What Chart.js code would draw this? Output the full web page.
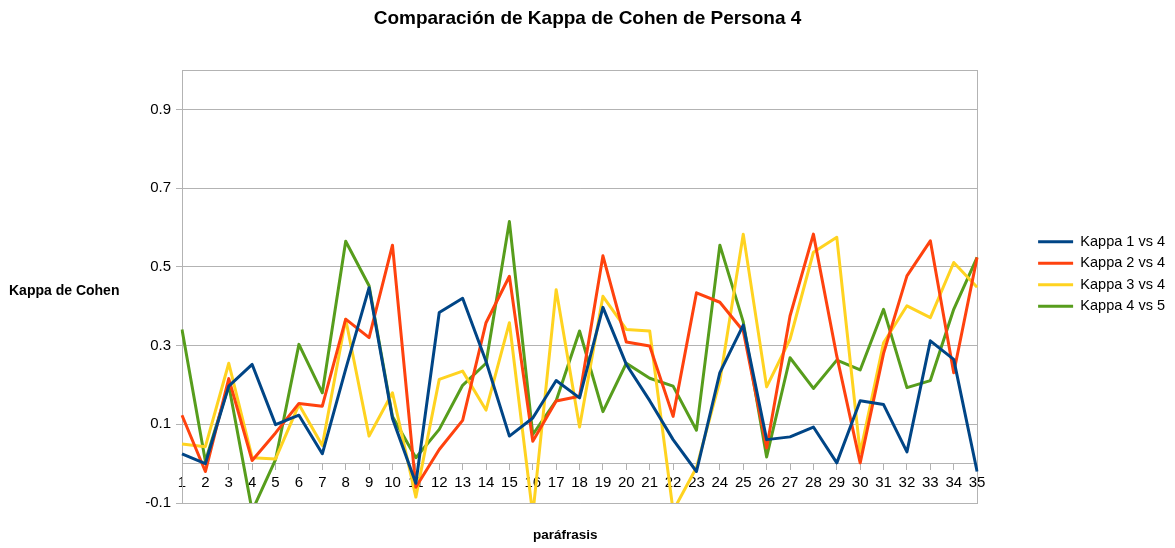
<!DOCTYPE html>
<html>
<head>
<meta charset="utf-8">
<title>Comparación de Kappa de Cohen de Persona 4</title>
<script src="https://cdn.jsdelivr.net/npm/chart.js@4.4.0/dist/chart.umd.min.js"></script>
<style>
  html, body { margin: 0; padding: 0; background: #fff; }
  canvas { display: block; }
</style>
</head>
<body>
<canvas id="kappaChart" width="1175" height="548"></canvas>
<script>
// paráfrasis 1..35
const parafrasis = ['1', '2', '3', '4', '5', '6', '7', '8', '9', '10',
    '11', '12', '13', '14', '15', '16', '17', '18', '19', '20',
    '21', '22', '23', '24', '25', '26', '27', '28', '29', '30',
    '31', '32', '33', '34', '35'];

const kappa1vs4 = [0.025, 0.0, 0.197, 0.252, 0.099, 0.123, 0.025, 0.24, 0.447, 0.115,
    -0.05, 0.384, 0.42, 0.26, 0.07, 0.116, 0.211, 0.167, 0.397, 0.252,
    0.16, 0.061, -0.02, 0.231, 0.352, 0.061, 0.068, 0.093, 0.002, 0.16,
    0.15, 0.03, 0.312, 0.265, -0.02];

const kappa2vs4 = [0.123, -0.02, 0.216, 0.008, 0.078, 0.153, 0.146, 0.367, 0.32, 0.555,
    -0.06, 0.036, 0.11, 0.358, 0.476, 0.057, 0.159, 0.171, 0.528, 0.309,
    0.299, 0.12, 0.434, 0.41, 0.337, 0.04, 0.375, 0.583, 0.273, 0.002,
    0.28, 0.477, 0.566, 0.231, 0.524];

const kappa3vs4 = [0.05, 0.043, 0.255, 0.015, 0.012, 0.15, 0.046, 0.367, 0.07, 0.18,
    -0.085, 0.214, 0.235, 0.136, 0.358, -0.13, 0.442, 0.093, 0.425, 0.341,
    0.337, -0.12, -0.01, 0.21, 0.583, 0.195, 0.316, 0.537, 0.575, 0.027,
    0.307, 0.401, 0.371, 0.511, 0.448];

const kappa4vs5 = [0.341, 0.006, 0.199, -0.12, 0.01, 0.303, 0.18, 0.565, 0.452, 0.12,
    0.015, 0.087, 0.199, 0.255, 0.615, 0.074, 0.16, 0.337, 0.132, 0.255,
    0.217, 0.197, 0.085, 0.555, 0.36, 0.017, 0.269, 0.191, 0.263, 0.238,
    0.392, 0.193, 0.211, 0.392, 0.524];

// y ticks (1.0 is just the top frame line)
const yTickValues = [-0.1, 0.1, 0.3, 0.5, 0.7, 0.9, 1.0];
const yTickLabels = ['-0.1', '0.1', '0.3', '0.5', '0.7', '0.9', ''];

const gridGrey = '#b3b3b3';
Chart.defaults.font.family = '"Liberation Sans", Arial, sans-serif';
Chart.defaults.color = '#000';

// horizontal y title on the left + x title under the plot
const axisTitles = {
    id: 'axisTitles',
    afterDraw(chart) {
        const {ctx, chartArea} = chart;
        ctx.save();
        ctx.fillStyle = '#000';
        ctx.textBaseline = 'middle';
        ctx.font = 'bold 14px "Liberation Sans", Arial, sans-serif';
        ctx.textAlign = 'left';
        ctx.fillText('Kappa de Cohen', 9, (chartArea.top + chartArea.bottom) / 2 + 5);
        ctx.font = 'bold 13.5px "Liberation Sans", Arial, sans-serif';
        ctx.textAlign = 'center';
        ctx.fillText('paráfrasis', chartArea.left + (chartArea.right - chartArea.left) * 0.482, chartArea.bottom + 32);
        ctx.restore();
    }
};

const ctx = document.getElementById('kappaChart').getContext('2d');
const kappaChart = new Chart(ctx, {
    type: 'line',
    data: {
        labels: parafrasis,
        datasets: [
            { label: 'Kappa 1 vs 4', data: kappa1vs4, borderColor: '#004586', backgroundColor: '#004586' },
            { label: 'Kappa 2 vs 4', data: kappa2vs4, borderColor: '#ff420e', backgroundColor: '#ff420e' },
            { label: 'Kappa 3 vs 4', data: kappa3vs4, borderColor: '#ffd320', backgroundColor: '#ffd320' },
            { label: 'Kappa 4 vs 5', data: kappa4vs5, borderColor: '#579d1c', backgroundColor: '#579d1c' }
        ]
    },
    options: {
        responsive: false,
        animation: false,
        elements: {
            line: { borderWidth: 3, tension: 0, borderJoinStyle: 'round' },
            point: { radius: 0, borderWidth: 3 }
        },
        layout: { padding: { left: 0, right: 0, top: 0, bottom: 0 } },
        plugins: {
            title: {
                display: true,
                text: 'Comparación de Kappa de Cohen de Persona 4',
                font: { size: 19, weight: 'bold' },
                color: '#000',
                padding: { top: 7, bottom: 40.2 }
            },
            subtitle: {
                // keeps room below the plot for the x title
                display: true,
                position: 'bottom',
                text: '',
                font: { size: 12 },
                padding: { top: 30.6, bottom: 0 }
            },
            legend: {
                position: 'right',
                labels: {
                    usePointStyle: true,
                    pointStyle: 'line',
                    pointStyleWidth: 35,
                    padding: 7,
                    color: '#000',
                    font: { size: 14.5 }
                }
            },
            tooltip: { enabled: false }
        },
        scales: {
            x: {
                type: 'category',
                position: { y: 0 },
                offset: false,
                grid: { display: true, drawOnChartArea: false, drawTicks: true, tickLength: 6, color: gridGrey },
                border: { display: true, color: gridGrey },
                ticks: { font: { size: 15 }, color: '#000', maxRotation: 0, autoSkip: false, padding: 4 }
            },
            y: {
                min: -0.1,
                max: 1.0,
                afterBuildTicks(scale) {
                    scale.ticks = yTickValues.map(v => ({ value: v }));
                },
                afterFit(scale) {
                    scale.width = 182;
                },
                grid: {
                    color: gridGrey,
                    tickLength: 6,
                    tickColor: c => (c.tick && c.tick.value === 1.0 ? 'rgba(0,0,0,0)' : gridGrey)
                },
                border: { display: true, color: gridGrey },
                ticks: {
                    font: { size: 15 },
                    color: '#000',
                    padding: 5,
                    callback: (value, index) => yTickLabels[index]
                }
            },
            y2: {
                position: 'right',
                grid: { display: false },
                ticks: { display: false },
                border: { display: true, color: gridGrey },
                afterFit(scale) {
                    scale.width = 54;
                }
            }
        }
    },
    plugins: [axisTitles]
});
</script>
</body>
</html>
